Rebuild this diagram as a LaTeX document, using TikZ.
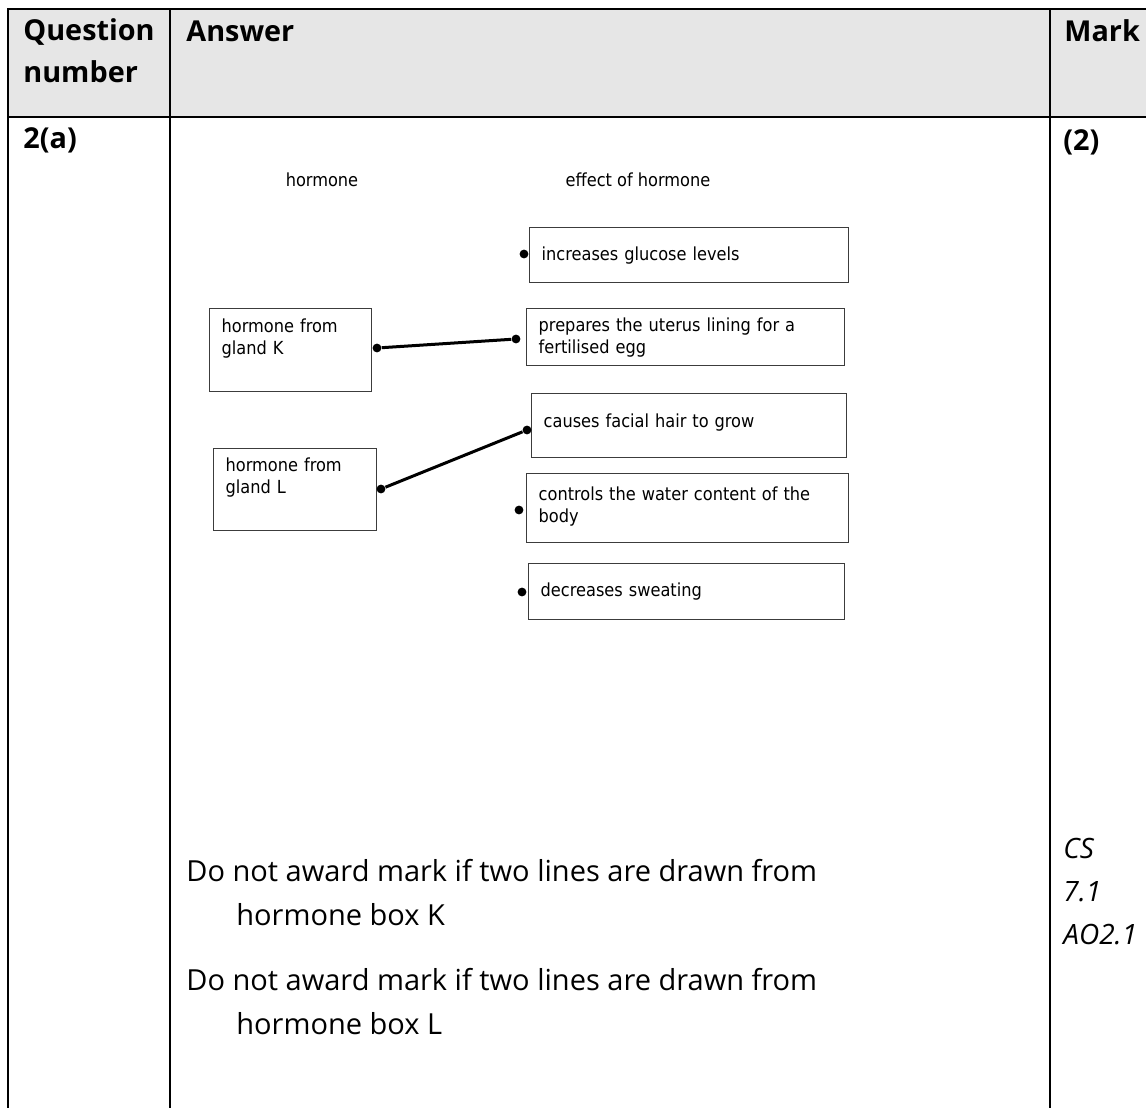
\documentclass[tikz,border=0pt]{standalone}
\usepackage{fontspec}
\setmainfont{Open Sans}
\newfontfamily\diagfont{DejaVu Sans Condensed}
\usetikzlibrary{positioning}

\definecolor{headgrey}{HTML}{E6E6E6}
\definecolor{boxgrey}{HTML}{3C3C3C}

\begin{document}
\begin{tikzpicture}[x=0.5pt,y=-0.5pt,
    grid line/.style={line width=1.3pt,line cap=rect},
    head text/.style={anchor=base west,inner sep=0pt,align=left,font=\fontsize{14.4}{21}\selectfont\bfseries},
    body text/.style={anchor=base west,inner sep=0pt,align=left,font=\fontsize{14.5}{22}\selectfont},
    mark text/.style={anchor=base west,inner sep=0pt,align=left,font=\fontsize{14}{21.5}\selectfont\itshape},
    diag text/.style={inner sep=0pt,font=\diagfont\fontsize{9}{11}\selectfont},
    answer box/.style={draw=boxgrey,line width=0.7pt,anchor=north west,align=left,inner xsep=6pt,inner ysep=0pt,font=\diagfont\fontsize{9}{11}\selectfont},
    dot/.style={circle,fill=black,inner sep=0pt,minimum size=4.4pt},
    link/.style={line width=1.5pt,black}]

    \useasboundingbox (0,0) rectangle (1146,1108);

    % table frame
    \fill[headgrey] (8,9) rectangle (1146,117);
    \draw[grid line] (1146,9) -- (8,9) -- (8,1108);
    \draw[grid line] (8,117) -- (1146,117);
    \draw[grid line] (170,9) -- (170,1108);
    \draw[grid line] (1050,9) -- (1050,1108);

    % base of a two-line node is its last line
    \node[head text] (qhead) at (23,83)   {Question\\number};
    \node[head text] (ahead) at (186,41)  {Answer};
    \node[head text] (mhead) at (1064,41) {Mark};
    \node[head text] (qnum)  at (23,148)  {2(a)};
    \node[head text] (mnum)  at (1063,150) {(2)};

    % matching diagram
    \node[diag text] (hcol) at (322,180) {hormone};
    \node[diag text] (ecol) at (638,180) {effect of hormone};

    \node[answer box,minimum width=81pt,minimum height=41.5pt,text width=69pt] (boxK) at (209,308) {hormone from\\gland K\\[3pt]\mbox{}};
    \node[answer box,minimum width=81.5pt,minimum height=41pt,text width=69.5pt] (boxL) at (213,448) {hormone from\\gland L\\[3pt]\mbox{}};

    \node[answer box,minimum width=159.5pt,minimum height=27.5pt,text width=147.5pt] (glu) at (529,227) {increases glucose levels};
    \node[answer box,minimum width=159pt,minimum height=28.5pt,text width=147pt]     (ute) at (526,308) {prepares the uterus lining for a\\fertilised egg};
    \node[answer box,minimum width=157.5pt,minimum height=32pt,text width=145.5pt]   (fac) at (531,393) {causes facial hair to grow\\[-6pt]\mbox{}};
    \node[answer box,minimum width=161pt,minimum height=34.5pt,text width=149pt]     (wat) at (526,473) {\mbox{}\\[-6pt]controls the water content of the\\body};
    \node[answer box,minimum width=158pt,minimum height=28pt,text width=146pt]       (swe) at (528,563) {decreases sweating};

    \node[dot] (dK)   at (377,348) {};
    \node[dot] (dL)   at (381,489) {};
    \node[dot] (dGlu) at (524,254) {};
    \node[dot] (dUte) at (516,339) {};
    \node[dot] (dFac) at (527,430) {};
    \node[dot] (dWat) at (519,510) {};
    \node[dot] (dSwe) at (522,592) {};

    \draw[link] (dK) -- (dUte);
    \draw[link] (dL) -- (dFac);

    % guidance
    \node[body text] (noteK) at (186,925) {Do not award mark if two lines are drawn from\\\hspace*{25pt}hormone box K};
    \node[body text] (noteL) at (186,1034) {Do not award mark if two lines are drawn from\\\hspace*{25pt}hormone box L};

    \node[mark text] (spec) at (1063,944) {CS\\7.1\\AO2.1};
\end{tikzpicture}
\end{document}
